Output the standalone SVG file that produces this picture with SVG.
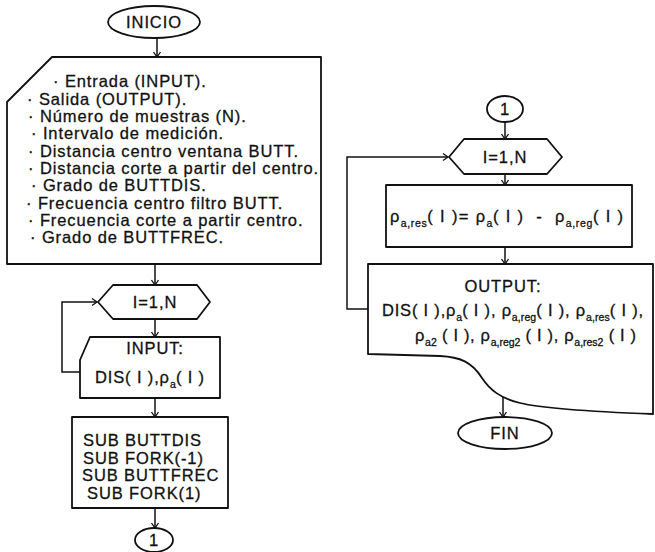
<svg xmlns="http://www.w3.org/2000/svg" width="655" height="552" viewBox="0 0 655 552">
<style>
.s{fill:#fff;stroke:#111;stroke-width:1.8;stroke-linejoin:round}
.c{fill:none;stroke:#111;stroke-width:1.5;marker-end:url(#arr)}
text{font-family:"Liberation Sans",Arial,sans-serif;fill:#111;stroke:#111;stroke-width:0.3;font-size:16.5px;letter-spacing:0.9px;white-space:pre}
.m{text-anchor:middle}
.sub{font-size:10.5px;letter-spacing:0.2px}
</style>
<defs>
<marker id="arr" markerUnits="userSpaceOnUse" markerWidth="10" markerHeight="10" viewBox="-6 -5 8 10" refX="0" refY="0" orient="auto">
<path d="M-5,-3.5 L0,0 L-5,3.5" fill="none" stroke="#111" stroke-width="1.3"/>
</marker>
</defs>
<rect width="655" height="552" fill="#fff"/>
<g id="connectors">
<path class="c" d="M157,38 V57"/>
<path class="c" d="M155,264 V285"/>
<path class="c" d="M155,319 V337"/>
<path class="c" d="M155,398 V417"/>
<path class="c" d="M155,508 V528"/>
<path class="c" d="M80,372 H62 V302 H97"/>
<path class="c" d="M505,122 V139"/>
<path class="c" d="M505,174 V185"/>
<path class="c" d="M505,247 V264"/>
<path class="c" d="M368,309 H347 V157 H448"/>
<path class="c" d="M503,397 V417"/>
</g>
<g id="inicio">
<ellipse class="s" cx="154" cy="22" rx="46" ry="16"/>
<text class="m" x="154" y="28">INICIO</text>
</g>
<g id="datos">
<path class="s" d="M52,57 H321 V264 H7 V102 Z"/>
<text x="53" y="87">· Entrada (INPUT).</text>
<text x="27" y="104.5">· Salida (OUTPUT).</text>
<text x="28" y="122">· Número de muestras (N).</text>
<text x="31" y="139">· Intervalo de medición.</text>
<text x="28" y="156.5">· Distancia centro ventana BUTT.</text>
<text x="28" y="174">· Distancia corte a partir del centro.</text>
<text x="31" y="191">· Grado de BUTTDIS.</text>
<text x="26" y="208.5">· Frecuencia centro filtro BUTT.</text>
<text x="28" y="226">· Frecuencia corte a partir centro.</text>
<text x="30" y="243">· Grado de BUTTFREC.</text>
</g>
<g id="loop1">
<path class="s" d="M98,302 L113,285 H197 L210,302 L197,319 H113 Z"/>
<text class="m" x="155" y="308">I=1,N</text>
</g>
<g id="input1">
<path class="s" d="M90,337 H220 V398 H80 V360 Z"/>
<text class="m" x="155" y="354">INPUT:</text>
<text x="95" y="383" textLength="110">DIS( I ),ρ<tspan class="sub" dy="5">a</tspan><tspan dy="-5">( I )</tspan></text>
</g>
<g id="subs">
<rect class="s" x="72" y="417" width="156" height="91"/>
<text x="83" y="446">SUB BUTTDIS</text>
<text x="83" y="464">SUB FORK(-1)</text>
<text x="82" y="481">SUB BUTTFREC</text>
<text x="87" y="499">SUB FORK(1)</text>
</g>
<g id="conn1">
<ellipse class="s" cx="154" cy="540" rx="19" ry="12"/>
<text class="m" x="154" y="546">1</text>
</g>
<g id="conn2">
<ellipse class="s" cx="505" cy="109" rx="18" ry="13"/>
<text class="m" x="505" y="115">1</text>
</g>
<g id="loop2">
<path class="s" d="M449,157 L464,139 H547 L562,157 L547,174 H464 Z"/>
<text class="m" x="505" y="163">I=1,N</text>
</g>
<g id="calc">
<rect class="s" x="386" y="185" width="246" height="62"/>
<text x="390" y="222" textLength="234">ρ<tspan class="sub" dy="5">a,res</tspan><tspan dy="-5">( I )= ρ</tspan><tspan class="sub" dy="5">a</tspan><tspan dy="-5">( I )  -  ρ</tspan><tspan class="sub" dy="5">a,reg</tspan><tspan dy="-5">( I )</tspan></text>
</g>
<g id="output">
<path class="s" d="M368,264 H653 V414 C600,412 540,408 520,403 C500,398 490,390 482,378 C472,362 460,357 440,356 L368,354 Z"/>
<text class="m" x="503" y="292">OUTPUT:</text>
<text x="382" y="316" textLength="262">DIS( I ),ρ<tspan class="sub" dy="5">a</tspan><tspan dy="-5">( I ), ρ</tspan><tspan class="sub" dy="5">a,reg</tspan><tspan dy="-5">( I ), ρ</tspan><tspan class="sub" dy="5">a,res</tspan><tspan dy="-5">( I ),</tspan></text>
<text x="415" y="341" textLength="222">ρ<tspan class="sub" dy="5">a2</tspan><tspan dy="-5"> ( I ), ρ</tspan><tspan class="sub" dy="5">a,reg2</tspan><tspan dy="-5"> ( I ), ρ</tspan><tspan class="sub" dy="5">a,res2</tspan><tspan dy="-5"> ( I )</tspan></text>
</g>
<g id="fin">
<ellipse class="s" cx="505" cy="433" rx="47" ry="16"/>
<text class="m" x="505" y="439">FIN</text>
</g>
</svg>
